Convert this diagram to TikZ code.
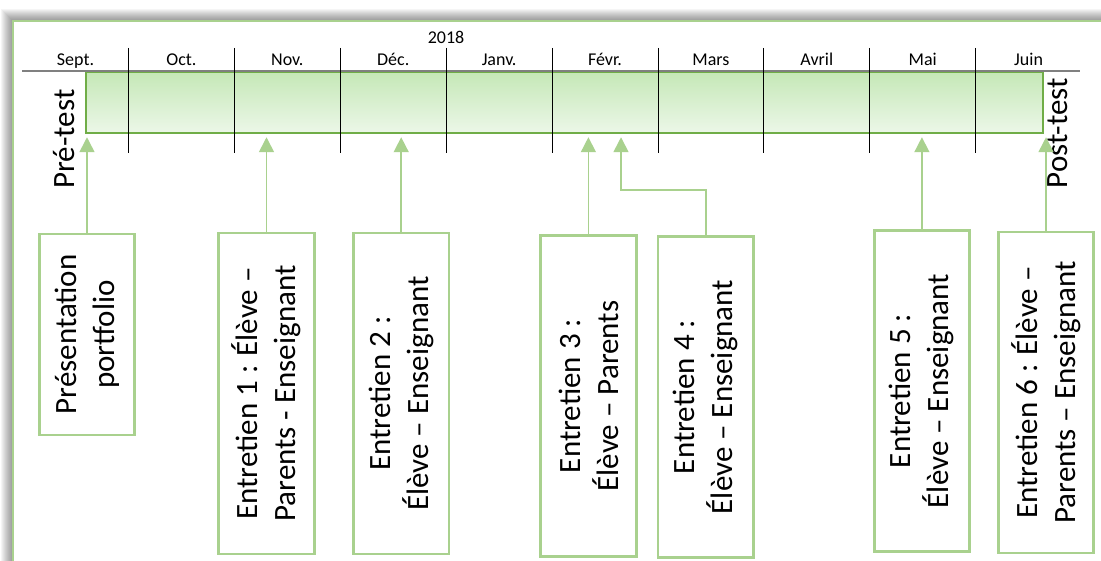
\documentclass[tikz,border=0pt]{standalone}
\usepackage{fontspec}
\setmainfont{Carlito}
\usepackage{tikz}
\usetikzlibrary{arrows.meta}
\definecolor{lightgreen}{RGB}{169,209,142}
\definecolor{bargreen}{RGB}{112,173,71}
\definecolor{bartop}{RGB}{197,232,183}
\definecolor{barbottom}{RGB}{236,247,232}
\definecolor{axisgray}{RGB}{128,128,128}

\begin{document}
\begin{tikzpicture}[x=0.5pt, y=-0.5pt,
every node/.style={font=\fontsize{15.5}{19}\selectfont},
month/.style={font=\fontsize{9}{11}\selectfont, anchor=base},
box/.style={rotate=90, draw=lightgreen, line width=1.4pt, fill=white, align=center,
  inner sep=2pt, minimum width=160.5pt, minimum height=47.75pt},
link/.style={draw=lightgreen, line width=0.8pt, -{Triangle[width=7.5pt,length=7.5pt]}, shorten >=1.75pt},
monthtick/.style={black, line width=0.5pt}]

\useasboundingbox (0,0) rectangle (1101,561);
\clip (0,0) rectangle (1101,561);

% shadow and frame
\foreach \i in {1,...,12}
  \fill[black, opacity=0.04] (13-\i,21-\i) rectangle (1200,700);
\draw[lightgreen, line width=1pt, fill=white] (13,21) rectangle (1200,700);

% year and months
\node (year) at (446,43.5) [month] {2018};
\foreach \m [count=\k from 0] in {Sept.,Oct.,Nov.,Déc.,Janv.,Févr.,Mars,Avril,Mai,Juin}
  \node (m\k) at (75.5+105.9*\k,66) [month] {\m};

% time bar
\node (bar) at (564.5,102.5) [draw=bargreen, line width=0.75pt, top color=bartop,
  bottom color=barbottom, minimum width=478.5pt, minimum height=30.5pt, inner sep=0pt] {};
\draw[axisgray, line width=0.75pt] (22,71) -- (1080,71);

\foreach \k in {0,...,8}
  \draw[monthtick] (128.5+105.9*\k,48) -- (128.5+105.9*\k,153);

%\node at (564.5,102.5) {};
\node (pre) at (74.5,139) [rotate=90, anchor=base] {Pré-test};
\node (post) at (1067.5,133) [rotate=90, anchor=base] {Post-test};

% boxes
\node (pres) at (87,334.5) [box, minimum width=100.5pt] {Présentation\\portfolio};
\node (e1) at (266.5,393.5) [box] {Entretien 1 : Élève –\\Parents - Enseignant};
\node (e2) at (401.2,393.5) [box] {Entretien 2 :\\Élève – Enseignant};
\node (e3) at (588.4,396) [box] {Entretien 3 :\\Élève – Parents};
\node (e4) at (705.8,397) [box] {Entretien 4 :\\Élève – Enseignant};
\node (e5) at (921.9,391) [box] {Entretien 5 :\\Élève – Enseignant};
\node (e6) at (1046,392.5) [box] {Entretien 6 : Élève –\\Parents – Enseignant};

% arrows
\foreach \b in {pres,e1,e2,e3,e5,e6}
  \draw[link] (\b.east) -- (\b.east |- bar.south);
\coordinate (e4bend) at (621,190);
\draw[link] (e4.east) |- (e4bend) -- (e4bend |- bar.south);

\end{tikzpicture}
\end{document}
